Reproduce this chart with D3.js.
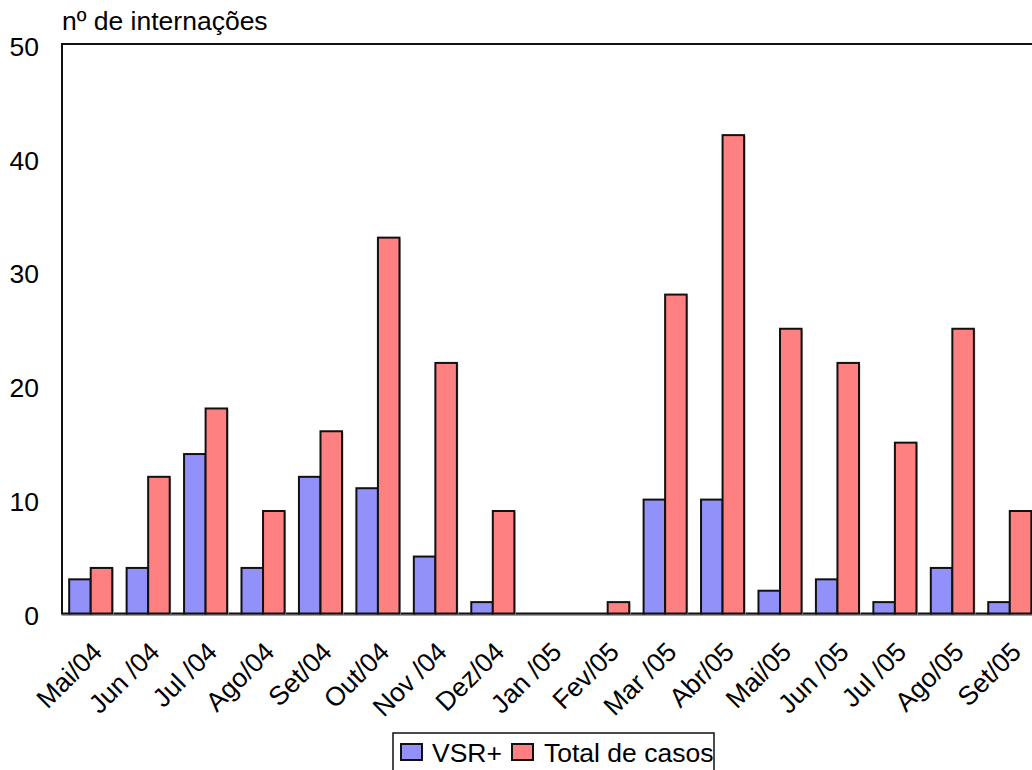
<!DOCTYPE html>
<html>
<head>
<meta charset="utf-8">
<script src="https://cdn.jsdelivr.net/npm/d3@7"></script>
<style>
  html, body { margin: 0; padding: 0; background: #fff; }
  svg { display: block; }
  text { font-family: "Liberation Sans", Arial, sans-serif; fill: #000; }
</style>
</head>
<body>
<svg id="chart" width="1032" height="770"></svg>
<script>
// Monthly hospitalisations: VSR-positive cases vs. all cases
const months = ["Mai/04", "Jun /04", "Jul /04", "Ago/04", "Set/04", "Out/04", "Nov /04", "Dez/04",
                "Jan /05", "Fev/05", "Mar /05", "Abr/05", "Mai/05", "Jun /05", "Jul /05", "Ago/05", "Set/05"];
const vsrPositive = [3, 4, 14, 4, 12, 11, 5, 1, 0, 0, 10, 10, 2, 3, 1, 4, 1];
const totalCases  = [4, 12, 18, 9, 16, 33, 22, 9, 0, 1, 28, 42, 25, 22, 15, 25, 9];
const seriesNames = ["VSR+", "Total de casos"];
const seriesColors = ["#9191f9", "#ff8080"];
const yTicks = [0, 10, 20, 30, 40, 50];

const FONT = 26.5;
const svg = d3.select("#chart");
const plot = { left: 62, right: 1038.5, top: 44, bottom: 613.5 };

const x = d3.scaleBand()
  .domain(months)
  .range([plot.left, plot.right])
  .paddingInner(0.25)
  .paddingOuter(0.125);

const xSub = d3.scaleBand()
  .domain(seriesNames)
  .range([0, x.bandwidth()]);

const y = d3.scaleLinear().domain([0, 50]).range([plot.bottom, plot.top]);

const rows = months.map((m, i) => ({ month: m, values: [vsrPositive[i], totalCases[i]] }));

// plot frame with a soft grey shadow
svg.append("rect")
  .attr("x", plot.left).attr("y", plot.top)
  .attr("width", plot.right - plot.left).attr("height", plot.bottom - plot.top)
  .attr("fill", "none").attr("stroke", "#a0a0a0").attr("stroke-width", 3)
  .attr("transform", "translate(1,1)");
svg.append("rect")
  .attr("x", plot.left).attr("y", plot.top)
  .attr("width", plot.right - plot.left).attr("height", plot.bottom - plot.top)
  .attr("fill", "#fff").attr("stroke", "#111").attr("stroke-width", 2);

// bars
const groups = svg.append("g").selectAll("g")
  .data(rows).join("g")
  .attr("transform", d => `translate(${x(d.month)},0)`);

groups.selectAll("rect.shadow")
  .data(d => d.values.map((v, k) => ({ k, v })))
  .join("rect").attr("class", "shadow")
  .attr("x", d => xSub(seriesNames[d.k]) + 1.5)
  .attr("y", d => y(d.v) + 1)
  .attr("width", xSub.bandwidth())
  .attr("height", d => y(0) - y(d.v))
  .attr("fill", "#c8c8c8");

groups.selectAll("rect.bar")
  .data(d => d.values.map((v, k) => ({ k, v })))
  .join("rect").attr("class", "bar")
  .attr("x", d => xSub(seriesNames[d.k]))
  .attr("y", d => y(d.v))
  .attr("width", xSub.bandwidth())
  .attr("height", d => y(0) - y(d.v))
  .attr("fill", d => seriesColors[d.k])
  .attr("stroke", "#111")
  .attr("stroke-width", 2);

// y axis labels
const yAxis = d3.axisLeft(y).tickValues(yTicks).tickSize(0).tickPadding(23);
const yg = svg.append("g").attr("transform", `translate(${plot.left},0)`).call(yAxis);
yg.select(".domain").remove();
yg.selectAll("text")
  .attr("font-family", "Liberation Sans, Arial, sans-serif")
  .attr("font-size", FONT)
  .attr("dy", "0.42em")
  .attr("fill", "#000");

// x axis labels, rotated
const xAxis = d3.axisBottom(x).tickSize(0).tickPadding(0);
const xg = svg.append("g").attr("transform", `translate(0,${plot.bottom})`).call(xAxis);
xg.select(".domain").remove();
xg.selectAll("text")
  .attr("font-family", "Liberation Sans, Arial, sans-serif")
  .attr("font-size", FONT)
  .attr("fill", "#000")
  .attr("y", 0).attr("dy", 0)
  .attr("text-anchor", "end")
  .attr("transform", "translate(13,40) rotate(-45)");

// axis title
svg.append("text")
  .attr("x", 62).attr("y", 30)
  .attr("font-size", FONT)
  .text("nº de internações");

// legend
const legend = svg.append("g");
legend.append("rect")
  .attr("x", 393).attr("y", 733).attr("width", 321).attr("height", 60)
  .attr("fill", "#fff").attr("stroke", "#111").attr("stroke-width", 1.5);
const legendItems = [{ x: 401, tx: 432 }, { x: 512, tx: 544 }];
seriesNames.forEach((name, k) => {
  legend.append("rect")
    .attr("x", legendItems[k].x).attr("y", 744)
    .attr("width", 21).attr("height", 16)
    .attr("fill", seriesColors[k]).attr("stroke", "#111").attr("stroke-width", 2);
  legend.append("text")
    .attr("x", legendItems[k].tx).attr("y", 762)
    .attr("font-size", FONT)
    .text(name);
});
</script>
</body>
</html>
